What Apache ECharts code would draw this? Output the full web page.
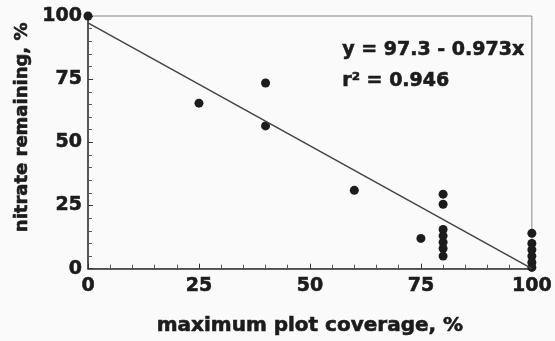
<!DOCTYPE html>
<html lang="en">
<head>
    <meta charset="UTF-8">
    <title>nitrate remaining</title>
    <script src="https://cdn.jsdelivr.net/npm/echarts@6/dist/echarts.min.js"></script>
</head>
<body style="margin:0;background:#fafafa;">
    <div id="box" style="width:555px;height:341px;"></div>
<script>
    // data
    var coverage = [0, 25, 40, 40, 60, 75, 80, 80, 80, 80, 80, 80, 80, 100, 100, 100, 100, 100, 100];
    var nitrate = [100, 65.5, 73.5, 56.5, 31, 12, 29.5, 25.5, 15.5, 13, 10.5, 8, 5, 14, 10, 7.5, 5, 2.5, 0.5];
    var fitLine = [[0, 97.3], [100, 0]];
    var ticks = [0, 25, 50, 75, 100];
    var eqText = ['y = 97.3 - 0.973x', 'r\u00b2 = 0.946'];

    var points = [];
    for (var i = 0; i < coverage.length; i++) {
        points.push([coverage[i], nitrate[i]]);
    }

    var box = echarts.init(document.getElementById('box'));
    var font = 'DejaVu Sans';
    var ink = '#1c1c1c';
    // heavy bold text, a thin stroke makes it look like the black face of the original
    var heavy = function (size) {
        return { fontFamily: font, fontWeight: 'bold', fontSize: size, color: ink, textBorderColor: ink, textBorderWidth: 0.6 };
    };
    var option = {
        backgroundColor: '#fafafa',
        animation: false,
        grid: {
            left: 88, right: 21, top: 16, bottom: 71,
            show: true, borderColor: '#888', borderWidth: 1
        },
        xAxis: {
            type: 'value', min: ticks[0], max: ticks[ticks.length - 1], interval: 25,
            name: 'maximum plot coverage, %',
            nameLocation: 'middle', nameGap: 47,
            nameTextStyle: heavy(20),
            axisLine: { lineStyle: { color: '#333', width: 1.5 } },
            axisTick: { inside: true, length: 5, lineStyle: { color: '#333' } },
            minorTick: { show: true, splitNumber: 5, length: 4, lineStyle: { color: '#555' } },
            axisLabel: Object.assign(heavy(19), { margin: 8 }),
            splitLine: { show: false }
        },
        yAxis: {
            type: 'value', min: ticks[0], max: ticks[ticks.length - 1], interval: 25,
            name: 'nitrate remaining, %',
            nameLocation: 'middle', nameGap: 57,
            nameTextStyle: Object.assign(heavy(18), { padding: [0, 0, 0, 30] }),
            axisLine: { lineStyle: { color: '#333', width: 1.5 } },
            axisTick: { inside: true, length: 5, lineStyle: { color: '#333' } },
            minorTick: { show: true, splitNumber: 5, length: 4, lineStyle: { color: '#555' } },
            axisLabel: Object.assign(heavy(19), { margin: 6 }),
            splitLine: { show: false }
        },
        graphic: [
            {
                type: 'text', left: 342, top: 35,
                style: {
                    text: eqText.join('\n'), fontFamily: font, fontWeight: 'bold', fontSize: 19,
                    lineHeight: 31, fill: ink, stroke: ink, lineWidth: 0.6
                }
            }
        ],
        series: [
            {
                type: 'line', data: fitLine, symbol: 'none', silent: true,
                lineStyle: { color: '#444', width: 1.5 }
            },
            {
                type: 'scatter', data: points, symbolSize: 9, clip: false,
                itemStyle: { color: ink, opacity: 1 }
            }
        ]
    };
    box.setOption(option);
</script>
</body>
</html>
